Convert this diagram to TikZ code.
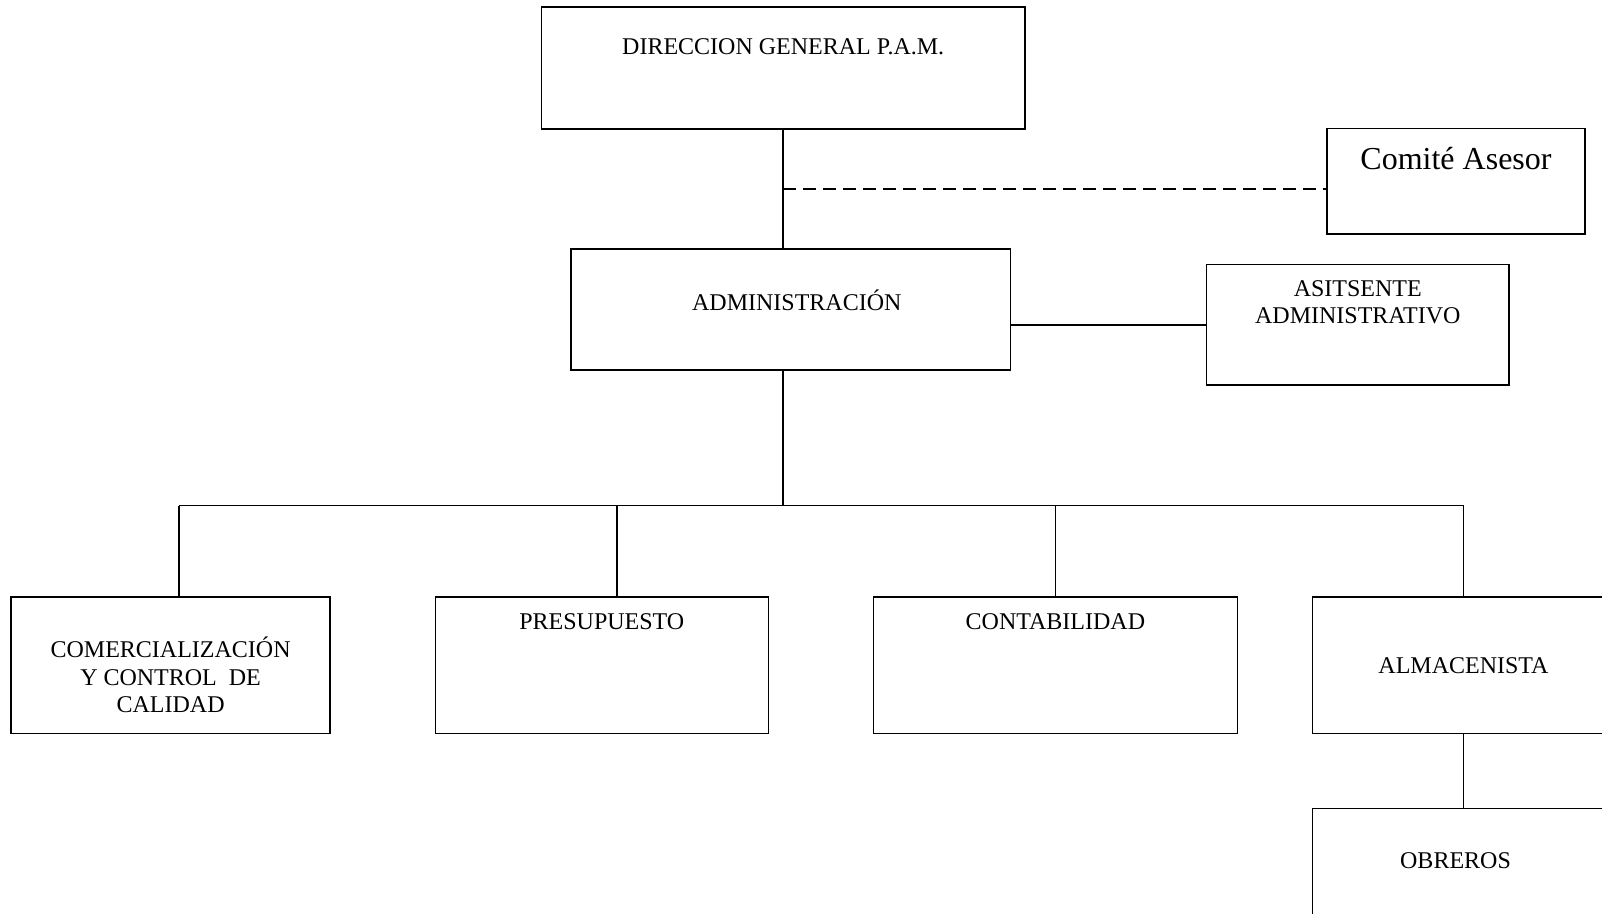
\documentclass[tikz,border=0pt]{standalone}
\usepackage{fontspec}
\setmainfont{Liberation Serif}
\usetikzlibrary{calc,positioning}
\tikzset{
  caja/.style={
    rectangle,
    draw=black, line width=.8pt,
    inner sep=0pt},
  rotulo/.style={
    font=\fontsize{12}{13.8}\selectfont,
    align=center,
    inner sep=0pt},
  linea/.style={draw, line width=.8pt},
  asesor/.style={draw, line width=.8pt, dash pattern=on 6.3pt off 3.7pt},
}
\begin{document}
\begin{tikzpicture}[x=0.5pt, y=-0.5pt]
  \useasboundingbox (0,0) rectangle (1602,914);
  \clip (0,0) rectangle (1602,914);
  % cajas
  \node (dir) [caja, minimum width=241.6pt, minimum height=60.8pt] at (783.2,68) {};
  \node (comite) [caja, minimum width=129pt, minimum height=52.7pt] at (1456,181.3) {};
  \node (adm) [caja, minimum width=219.7pt, minimum height=60.3pt] at (790.8,309.6) {};
  \node (asis) [caja, minimum width=151.2pt, minimum height=60.3pt] at (1357.8,324.9) {};
  \node (com) [caja, minimum width=159.4pt, minimum height=68.4pt] at (170.6,665.2) {};
  \node (pre) [caja, minimum width=166.5pt, minimum height=68.4pt] at (601.8,665.2) {};
  \node (con) [caja, minimum width=181.9pt, minimum height=68.4pt] at (1055.4,665.2) {};
  \node (alm) [caja, minimum width=151.2pt, minimum height=68.4pt] at (1463.5,665.2) {};
  \node (obr) [caja, minimum width=151.2pt, minimum height=68.4pt] at (1463.5,876.7) {};
  % textos
  \node (tdir) [rotulo, anchor=base] at ([yshift=-23.9pt]dir.north) {DIRECCION GENERAL P.A.M.};
  \node (tcomite) [rotulo, anchor=base, font=\fontsize{16}{19}\selectfont]
      at ([yshift=-20.8pt]comite.north) {Comité Asesor};
  \node (tadm) [rotulo, anchor=base] at ([xshift=3pt, yshift=-30.9pt]adm.north) {ADMINISTRACIÓN};
  \node (tasis) [rotulo] at ([yshift=-19.2pt]asis.north) {ASITSENTE\\ADMINISTRATIVO};
  \node (tcom) [rotulo] at ([yshift=-39.5pt]com.north) {COMERCIALIZACIÓN\\Y CONTROL\ \ DE\\CALIDAD};
  \node (tpre) [rotulo, anchor=base] at ([yshift=-16.7pt]pre.north) {PRESUPUESTO};
  \node (tcon) [rotulo, anchor=base] at ([yshift=-16.7pt]con.north) {CONTABILIDAD};
  \node (talm) [rotulo, anchor=base] at ([yshift=-39pt]alm.north) {ALMACENISTA};
  \node (tobr) [rotulo, anchor=base] at ([xshift=-4pt, yshift=-30.4pt]obr.north) {OBREROS};
  % conexiones
  \coordinate (nudo) at (783.2,189);
  \coordinate (bus) at (783.2,505.7);
  \coordinate (b1) at (178.8,505.7);
  \coordinate (b2) at (617,505.7);
  \coordinate (b3) at (1055.4,505.7);
  \coordinate (b4) at (1463.5,505.7);
  \draw[linea] (dir.south) -- (dir.south |- adm.north);
  \draw[asesor] (nudo) -- (nudo -| comite.west);
  \draw[linea] (asis.west) -- (asis.west -| adm.east);
  \draw[linea] (dir.south |- adm.south) -- (bus);
  \draw[linea] (b1) -- (b4);
  \foreach \nodo/\punto in {com/b1, pre/b2, con/b3, alm/b4}
    \draw[linea] (\punto) -- (\punto |- \nodo.north);
  \draw[linea] (alm.south) -- (obr.north);
\end{tikzpicture}
\end{document}
